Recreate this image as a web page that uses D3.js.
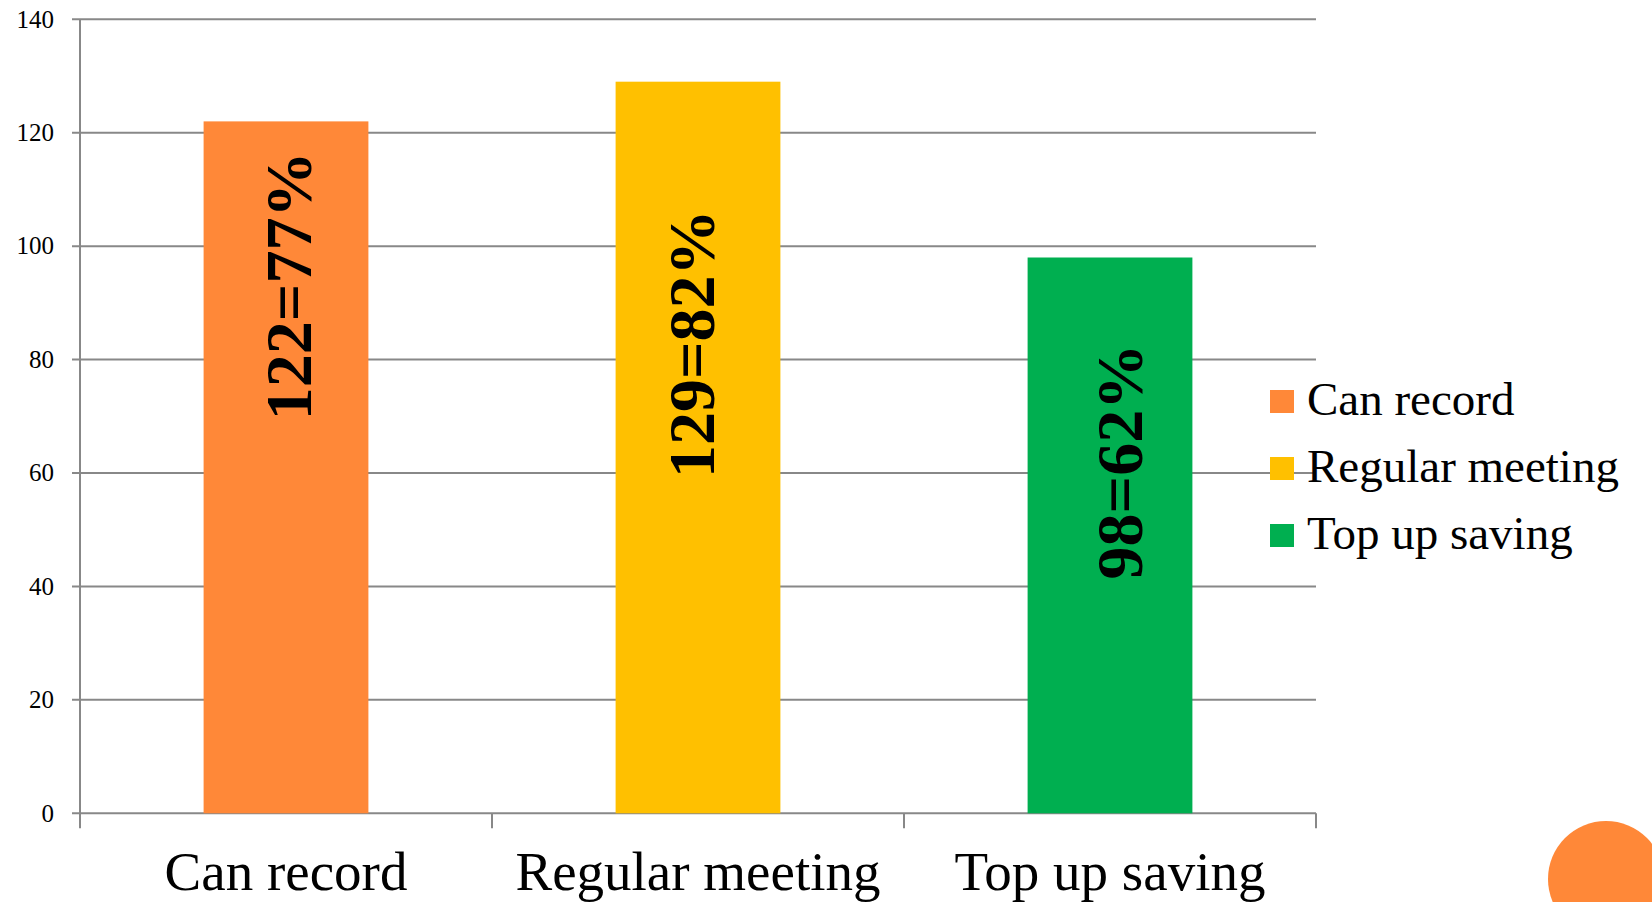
<!DOCTYPE html>
<html>
<head>
<meta charset="utf-8">
<script src="https://cdn.jsdelivr.net/npm/d3@7"></script>
<style>
  html, body { margin: 0; padding: 0; background: #fff; }
  svg { display: block; }
</style>
</head>
<body>
<svg id="chart" width="1652" height="902"></svg>
<script>
// Survey results: how many groups can record, meet regularly and top up savings
const categories = ["Can record", "Regular meeting", "Top up saving"];
const counts = [122, 129, 98];
const shares = ["77%", "82%", "62%"];
const colors = ["#FF8838", "#FFC000", "#00AF50"];
const yTicks = [0, 20, 40, 60, 80, 100, 120, 140];

const svg = d3.select("#chart");
const plotLeft = 80, plotRight = 1316, plotTop = 19.3, plotBottom = 813.3;
const gridColor = "#888888";
const serif = "'Liberation Serif', 'Times New Roman', serif";

const x = d3.scaleBand().domain(categories).range([plotLeft, plotRight]).padding(0);
const y = d3.scaleLinear().domain([0, 140]).range([plotBottom, plotTop]);
const barW = x.bandwidth() * 0.4;

// horizontal gridlines with short outside ticks
svg.append("g").selectAll("line").data(yTicks).join("line")
  .attr("x1", plotLeft - 8).attr("x2", plotRight)
  .attr("y1", d => y(d)).attr("y2", d => y(d))
  .attr("stroke", gridColor).attr("stroke-width", 2);

// value axis labels
svg.append("g").selectAll("text").data(yTicks).join("text")
  .attr("x", 54).attr("y", d => y(d)).attr("dy", "0.33em")
  .attr("text-anchor", "end")
  .attr("font-family", serif).attr("font-size", 25).attr("fill", "#000")
  .text(d => d);

// vertical axis line
svg.append("line")
  .attr("x1", plotLeft).attr("x2", plotLeft).attr("y1", plotTop).attr("y2", plotBottom + 15)
  .attr("stroke", gridColor).attr("stroke-width", 2);

// category boundary ticks
const bounds = categories.map(c => x(c)).concat([x(categories[categories.length - 1]) + x.bandwidth()]);
svg.append("g").selectAll("line").data(bounds.slice(1)).join("line")
  .attr("x1", d => d).attr("x2", d => d).attr("y1", plotBottom).attr("y2", plotBottom + 15)
  .attr("stroke", gridColor).attr("stroke-width", 2);

// bars
svg.append("g").selectAll("rect").data(categories).join("rect")
  .attr("x", c => x(c) + (x.bandwidth() - barW) / 2)
  .attr("width", barW)
  .attr("y", (c, i) => y(counts[i]))
  .attr("height", (c, i) => y(0) - y(counts[i]))
  .attr("fill", (c, i) => colors[i]);

// rotated value labels inside the bars (centre height in data units, small sideways nudge)
const labelCentre = [93, 82.8, 62];
const labelNudge = [3, -6, 10];
svg.append("g").selectAll("text").data(categories).join("text")
  .attr("transform", (c, i) => `translate(${x(c) + x.bandwidth() / 2 + labelNudge[i]},${y(labelCentre[i])}) rotate(-90)`)
  .attr("text-anchor", "middle").attr("dy", "0.34em")
  .attr("font-family", serif).attr("font-weight", "bold").attr("font-size", 66)
  .attr("fill", "#000")
  .text((c, i) => `${counts[i]}=${shares[i]}`);

// category labels
svg.append("g").selectAll("text").data(categories).join("text")
  .attr("x", c => x(c) + x.bandwidth() / 2).attr("y", 890)
  .attr("text-anchor", "middle")
  .attr("font-family", serif).attr("font-size", 55).attr("fill", "#000")
  .text(c => c);

// legend
const legend = svg.append("g").selectAll("g").data(categories).join("g")
  .attr("transform", (c, i) => `translate(1270, ${401.5 + i * 67})`);
legend.append("rect")
  .attr("x", 0).attr("y", -11.5).attr("width", 24).attr("height", 23)
  .attr("fill", (c, i) => colors[i]);
legend.append("text")
  .attr("x", 37).attr("y", 13)
  .attr("font-family", serif).attr("font-size", 47).attr("fill", "#000")
  .text(c => c);

// decorative corner disc
svg.append("circle").attr("cx", 1606).attr("cy", 879).attr("r", 58).attr("fill", "#FF8838");
</script>
</body>
</html>
